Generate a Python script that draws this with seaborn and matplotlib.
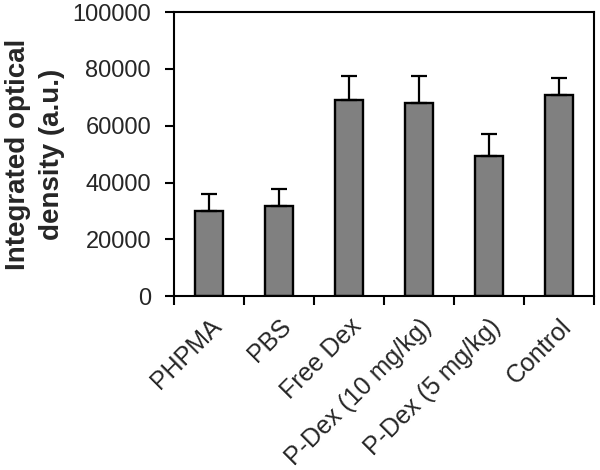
import matplotlib
matplotlib.use("Agg")
import matplotlib.pyplot as plt
import seaborn as sns
import pandas as pd
import numpy as np

categories = ["PHPMA", "PBS", "Free Dex", "P-Dex (10 mg/kg)", "P-Dex (5 mg/kg)", "Control"]
means = [30000, 31800, 69000, 67900, 49500, 71000]
errors = [5800, 5800, 8600, 9700, 7500, 5800]
yticks = [0, 20000, 40000, 60000, 80000, 100000]

sns.set_theme(style="white")
plt.rcParams['font.family'] = ['Liberation Sans', 'DejaVu Sans']

df = pd.DataFrame({"group": categories, "value": means})

fig = plt.figure(figsize=(6, 4.7), dpi=100)
ax = fig.add_axes([0.29, 0.370, 0.70, 0.604])

sns.barplot(data=df, x="group", y="value", order=categories, color="#808080",
            saturation=1, width=0.41, edgecolor="black", linewidth=1.7, ax=ax, errorbar=None)

x = np.arange(len(categories))
ax.errorbar(x, means, yerr=[np.zeros(len(errors)), errors], fmt="none",
            ecolor="black", elinewidth=1.6, capsize=6, capthick=1.6, zorder=1)

ax.set_xlim(-0.5, len(categories) - 0.5)
ax.set_ylim(0, 100000)
ax.set_yticks(yticks)
ax.set_yticklabels([str(v) for v in yticks], fontsize=17)

# major ticks at category boundaries, labels at centres
ax.set_xticks(np.arange(-0.5, len(categories), 1.0))
ax.set_xticklabels([""] * (len(categories) + 1))
ax.set_xticks(x, minor=True)
ax.set_xticklabels(categories, minor=True, rotation=45, ha="right",
                   rotation_mode="anchor", fontsize=18)
ax.tick_params(axis="x", which="minor", length=0, pad=13)
ax.tick_params(axis="both", which="major", direction="out", length=6.5, width=1.5,
               color="black", bottom=True, left=True)
ax.tick_params(axis="y", pad=10)

for s in ax.spines.values():
    s.set_color("black")
    s.set_linewidth(1.5)

ax.set_xlabel("")
ax.set_ylabel("Integrated optical\ndensity (a.u.)", fontsize=20, fontweight="bold",
              linespacing=1.4)
ax.yaxis.set_label_coords(-0.26, 0.5)

fig.savefig("out.png", dpi=100)
